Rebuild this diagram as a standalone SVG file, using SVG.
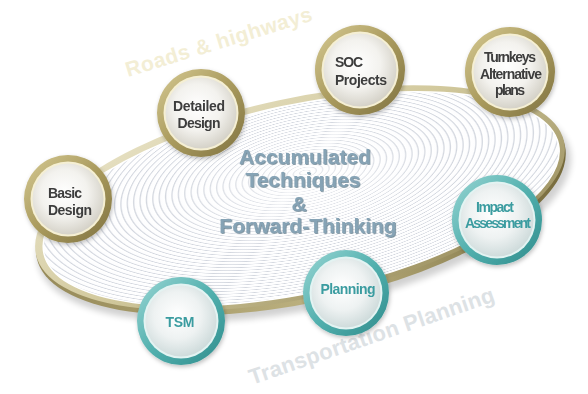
<svg xmlns="http://www.w3.org/2000/svg" width="588" height="394" viewBox="0 0 588 394">
  <defs>
    <linearGradient id="rimGrad" x1="0" y1="0" x2="1" y2="1">
      <stop offset="0" stop-color="#ede8cf"/>
      <stop offset="0.45" stop-color="#d2c99d"/>
      <stop offset="1" stop-color="#8f8352"/>
    </linearGradient>
    <linearGradient id="bandGrad" x1="0" y1="0" x2="1" y2="0">
      <stop offset="0" stop-color="#978b5a"/>
      <stop offset="0.5" stop-color="#bdb281"/>
      <stop offset="1" stop-color="#75693a"/>
    </linearGradient>
    <radialGradient id="rings" gradientUnits="userSpaceOnUse" cx="0" cy="0" r="6.5" spreadMethod="repeat" gradientTransform="translate(310 174) scale(1 0.42)">
      <stop offset="0" stop-color="#ffffff"/>
      <stop offset="0.6" stop-color="#fdfdfe"/>
      <stop offset="0.82" stop-color="#d2d6de"/>
      <stop offset="1" stop-color="#ffffff"/>
    </radialGradient>
    <radialGradient id="glow" cx="0.5" cy="0.5" r="0.5">
      <stop offset="0" stop-color="#ffffff" stop-opacity="0.5"/>
      <stop offset="1" stop-color="#ffffff" stop-opacity="0"/>
    </radialGradient>
    <linearGradient id="goldRing" x1="0" y1="0" x2="1" y2="1">
      <stop offset="0" stop-color="#d6ca93"/>
      <stop offset="0.5" stop-color="#a99a5d"/>
      <stop offset="1" stop-color="#7f7242"/>
    </linearGradient>
    <radialGradient id="goldFace" cx="0.45" cy="0.42" r="0.6">
      <stop offset="0" stop-color="#ffffff"/>
      <stop offset="0.55" stop-color="#f3f2ee"/>
      <stop offset="1" stop-color="#d3d0c6"/>
    </radialGradient>
    <linearGradient id="tealRing" x1="0" y1="0" x2="1" y2="1">
      <stop offset="0" stop-color="#9ad6d4"/>
      <stop offset="0.5" stop-color="#52b0ae"/>
      <stop offset="1" stop-color="#2f8c8c"/>
    </linearGradient>
    <radialGradient id="tealFace" cx="0.45" cy="0.42" r="0.6">
      <stop offset="0" stop-color="#ffffff"/>
      <stop offset="0.55" stop-color="#eef2f2"/>
      <stop offset="1" stop-color="#cddada"/>
    </radialGradient>
    <filter id="soft" x="-20%" y="-20%" width="140%" height="140%">
      <feGaussianBlur stdDeviation="3"/>
    </filter>
    <filter id="shadow" x="-30%" y="-30%" width="160%" height="160%">
      <feDropShadow dx="1" dy="2" stdDeviation="2" flood-color="#000" flood-opacity="0.25"/>
    </filter>
    <filter id="emboss" x="-10%" y="-20%" width="120%" height="140%">
      <feDropShadow dx="0.8" dy="0.8" stdDeviation="0.6" flood-color="#4d6a7c" flood-opacity="0.8"/>
    </filter>
  </defs>
  <style>
    .wm { font-family: "Liberation Sans", Arial, sans-serif; font-weight: bold; }
    .gring { fill: url(#goldRing); }
    .gcream { fill: #f5efd3; }
    .gface { fill: url(#goldFace); }
    .tring { fill: url(#tealRing); }
    .tcream { fill: #e3f3f2; }
    .tface { fill: url(#tealFace); }
    .node { filter: url(#shadow); }
    .lbl { font-family: "Liberation Sans", Arial, sans-serif; font-weight: bold; font-size: 14px; }
    .gold .lbl { fill: #3d3d3d; }
    .teal .lbl { fill: #3a9ca0; }
    .center { font-family: "Liberation Sans", Arial, sans-serif; font-weight: bold; font-size: 21px; fill: #86a3b5; text-anchor: middle; filter: url(#emboss); }
  </style>

  <rect width="588" height="394" fill="#ffffff"/>

  <!-- watermarks -->
  <text class="wm" x="128" y="77" font-size="21" fill="#f3eed5" transform="rotate(-17 128 77)" textLength="194">Roads &amp; highways</text>
  <text class="wm" x="252" y="385" font-size="22" fill="#dde2e5" transform="rotate(-19 252 385)" textLength="258">Transportation Planning</text>

  <!-- disc -->
  <g id="disc" transform="rotate(-12 300 198)">
    <ellipse cx="302" cy="208" rx="272" ry="102" fill="#000" opacity="0.18" filter="url(#soft)"/>
    <ellipse cx="300" cy="202" rx="270" ry="101" fill="url(#bandGrad)"/>
    <ellipse cx="300" cy="198" rx="270" ry="100" fill="url(#rimGrad)"/>
    <ellipse cx="301" cy="199" rx="263" ry="94" fill="url(#rings)" stroke="#ffffff" stroke-width="1.5"/>
    <ellipse cx="305" cy="185" rx="150" ry="60" fill="url(#glow)"/>
  </g>

  <g id="center-text">
    <text class="center" x="305" y="164">Accumulated</text>
    <text class="center" x="303" y="187">Techniques</text>
    <text class="center" x="299" y="211">&amp;</text>
    <text class="center" x="308" y="233">Forward-Thinking</text>
  </g>

  <g id="connectors"></g>

  <g id="basic-design" class="node gold">
    <circle cx="68" cy="199" r="44" class="gring"/>
    <circle cx="68" cy="199" r="37.5" class="gcream"/>
    <circle cx="68" cy="199" r="35.5" class="gface"/>
    <text class="lbl" x="48" y="198" textLength="34">Basic</text>
    <text class="lbl" x="48" y="215" textLength="44">Design</text>
  </g>

  <g id="detailed-design" class="node gold">
    <circle cx="201" cy="113" r="44" class="gring"/>
    <circle cx="201" cy="113" r="37.5" class="gcream"/>
    <circle cx="201" cy="113" r="35.5" class="gface"/>
    <text class="lbl" x="199" y="111" text-anchor="middle" textLength="52">Detailed</text>
    <text class="lbl" x="199" y="128" text-anchor="middle" textLength="43">Design</text>
  </g>

  <g id="soc-projects" class="node gold">
    <circle cx="360" cy="70" r="45" class="gring"/>
    <circle cx="360" cy="70" r="38.5" class="gcream"/>
    <circle cx="360" cy="70" r="36.5" class="gface"/>
    <text class="lbl" x="335" y="67" textLength="28">SOC</text>
    <text class="lbl" x="335" y="85" textLength="52">Projects</text>
  </g>

  <g id="turnkeys" class="node gold">
    <circle cx="510" cy="72" r="45" class="gring"/>
    <circle cx="510" cy="72" r="38.5" class="gcream"/>
    <circle cx="510" cy="72" r="36.5" class="gface"/>
    <text class="lbl" x="510" y="62" text-anchor="middle" font-size="13" textLength="52">Turnkeys</text>
    <text class="lbl" x="511" y="79" text-anchor="middle" font-size="13" textLength="62">Alternative</text>
    <text class="lbl" x="510" y="95" text-anchor="middle" font-size="13" textLength="30">plans</text>
  </g>

  <g id="impact-assessment" class="node teal">
    <circle cx="497" cy="220" r="45" class="tring"/>
    <circle cx="497" cy="220" r="38.5" class="tcream"/>
    <circle cx="497" cy="220" r="36.5" class="tface"/>
    <text class="lbl" x="495" y="212" text-anchor="middle" font-size="13" textLength="38">Impact</text>
    <text class="lbl" x="498" y="228" text-anchor="middle" font-size="13" textLength="66">Assessment</text>
  </g>

  <g id="planning" class="node teal">
    <circle cx="346" cy="293" r="43" class="tring"/>
    <circle cx="346" cy="293" r="36.5" class="tcream"/>
    <circle cx="346" cy="293" r="34.5" class="tface"/>
    <text class="lbl" x="348" y="294" text-anchor="middle" textLength="55">Planning</text>
  </g>

  <g id="tsm" class="node teal">
    <circle cx="181" cy="321" r="44" class="tring"/>
    <circle cx="181" cy="321" r="37.5" class="tcream"/>
    <circle cx="181" cy="321" r="35.5" class="tface"/>
    <text class="lbl" x="180" y="327" text-anchor="middle" textLength="29">TSM</text>
  </g>
</svg>
